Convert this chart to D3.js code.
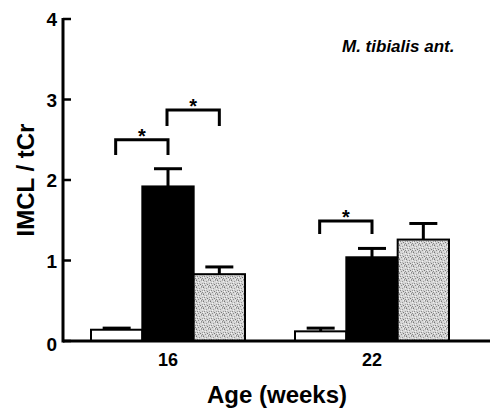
<!DOCTYPE html>
<html>
<head>
<meta charset="utf-8">
<script src="https://cdn.jsdelivr.net/npm/d3@7"></script>
<style>
  body { margin: 0; background: #fff; }
  text { font-family: "Liberation Sans", Arial, sans-serif; font-weight: bold; fill: #000; }
</style>
</head>
<body>
<svg id="chart" width="492" height="408"></svg>
<script>
// data
var ages = ['16', '22'];
var groups = ['control', 'black', 'stipple'];
var means16 = [0.14, 1.92, 0.83];
var means22 = [0.12, 1.04, 1.26];
var sem16 = [0.02, 0.22, 0.09];
var sem22 = [0.04, 0.11, 0.20];
var yTicks = [0, 1, 2, 3, 4];
// significance brackets: age, from group, to group, top, leg end
var brackets = [
    ['16', 'control', 'black', 2.50, 2.31],
    ['16', 'black', 'stipple', 2.87, 2.67],
    ['22', 'control', 'black', 1.49, 1.33]
];

var svg = d3.select('#chart');

var x = d3.scalePoint().domain(ages).range([168, 372]);
var xs = d3.scaleBand().domain(groups).range([-77, 77]);
var y = d3.scaleLinear().domain([0, 4]).range([341, 19]);

var rows = [];
ages.forEach(function (a, i) {
    var m = i == 0 ? means16 : means22;
    var s = i == 0 ? sem16 : sem22;
    groups.forEach(function (g, j) {
        rows.push({ age: a, group: g, mean: m[j], sem: s[j] });
    });
});

// stipple fill for third bar
var defs = svg.append('defs');
var pat = defs.append('pattern')
    .attr('id', 'stip')
    .attr('patternUnits', 'userSpaceOnUse')
    .attr('width', 7).attr('height', 7);
pat.append('rect').attr('width', 7).attr('height', 7).attr('fill', '#d6d6d6');
var dots = ['0,0,#777', '3,1,#999', '5,0,#aaa', '1,3,#888', '4,4,#777', '6,3,#a0a0a0',
    '2,5,#8c8c8c', '5,6,#909090', '0,6,#aaa', '3,3,#b4b4b4', '6,5,#888', '1,1,#bdbdbd',
    '2,2,#f2f2f2', '4,6,#f0f0f0', '6,1,#eee', '0,4,#f4f4f4'];
dots.forEach(function (d) {
    var p = d.split(',');
    pat.append('rect').attr('x', p[0]).attr('y', p[1]).attr('width', 1).attr('height', 1).attr('fill', p[2]);
});

var fills = { control: '#fff', black: '#000', stipple: 'url(#stip)' };

function cx(d) {
    return x(d.age) + xs(d.group) + xs.bandwidth() / 2;
}

// error bars (upward only)
var eb = svg.append('g');
eb.selectAll('line.stem').data(rows).enter().append('line')
    .attr('x1', cx).attr('x2', cx)
    .attr('y1', function (d) { return y(d.mean); })
    .attr('y2', function (d) { return y(d.mean + d.sem); })
    .attr('stroke', '#000').attr('stroke-width', 3);
eb.selectAll('line.cap').data(rows).enter().append('line')
    .attr('x1', function (d) { return cx(d) - 14; })
    .attr('x2', function (d) { return cx(d) + 14; })
    .attr('y1', function (d) { return y(d.mean + d.sem); })
    .attr('y2', function (d) { return y(d.mean + d.sem); })
    .attr('stroke', '#000').attr('stroke-width', 3);

// bars
svg.append('g').selectAll('rect').data(rows).enter().append('rect')
    .attr('x', function (d) { return x(d.age) + xs(d.group); })
    .attr('y', function (d) { return y(d.mean); })
    .attr('width', xs.bandwidth())
    .attr('height', function (d) { return y(0) - y(d.mean); })
    .attr('fill', function (d) { return fills[d.group]; })
    .attr('stroke', '#000')
    .attr('stroke-width', 2);

// axes
svg.append('line').attr('x1', 63).attr('x2', 490).attr('y1', y(0)).attr('y2', y(0))
    .attr('stroke', '#000').attr('stroke-width', 3);
svg.append('line').attr('x1', 63).attr('x2', 63).attr('y1', y(0) + 1.5).attr('y2', y(4) - 1)
    .attr('stroke', '#000').attr('stroke-width', 3);

var yt = svg.append('g').selectAll('g').data(yTicks).enter().append('g');
yt.append('line')
    .attr('x1', 63).attr('x2', 71)
    .attr('y1', function (d) { return y(d); })
    .attr('y2', function (d) { return y(d); })
    .attr('stroke', '#000').attr('stroke-width', 2.5);
yt.append('text')
    .attr('x', 57)
    .attr('y', function (d) { return y(d) + (d == 0 ? 10 : 7); })
    .attr('text-anchor', 'end')
    .style('font-size', '19px')
    .text(function (d) { return d; });

svg.append('g').selectAll('text').data(ages).enter().append('text')
    .attr('x', function (d) { return x(d); })
    .attr('y', 366)
    .attr('text-anchor', 'middle')
    .style('font-size', '18px')
    .text(function (d) { return d; });

// brackets
var bg = svg.append('g');
brackets.forEach(function (b) {
    var x1 = x(b[0]) + xs(b[1]) + xs.bandwidth() / 2 - 1;
    var x2 = x(b[0]) + xs(b[2]) + xs.bandwidth() / 2;
    bg.append('path')
        .attr('d', 'M' + x1 + ',' + y(b[4]) + 'V' + y(b[3]) + 'H' + x2 + 'V' + y(b[4]))
        .attr('fill', 'none')
        .attr('stroke', '#000')
        .attr('stroke-width', 3);
    bg.append('text')
        .attr('x', (x1 + x2) / 2)
        .attr('y', y(b[3]) + 3)
        .attr('text-anchor', 'middle')
        .style('font-size', '20px')
        .text('*');
});

// labels
svg.append('text')
    .attr('transform', 'translate(34,180) rotate(-90)')
    .attr('text-anchor', 'middle')
    .style('font-size', '24px')
    .text('IMCL / tCr');

svg.append('text')
    .attr('x', 277)
    .attr('y', 403)
    .attr('text-anchor', 'middle')
    .style('font-size', '24px')
    .text('Age (weeks)');

svg.append('text')
    .attr('x', 342)
    .attr('y', 52)
    .style('font-size', '17px')
    .style('font-style', 'italic')
    .text('M. tibialis ant.');
</script>
</body>
</html>
